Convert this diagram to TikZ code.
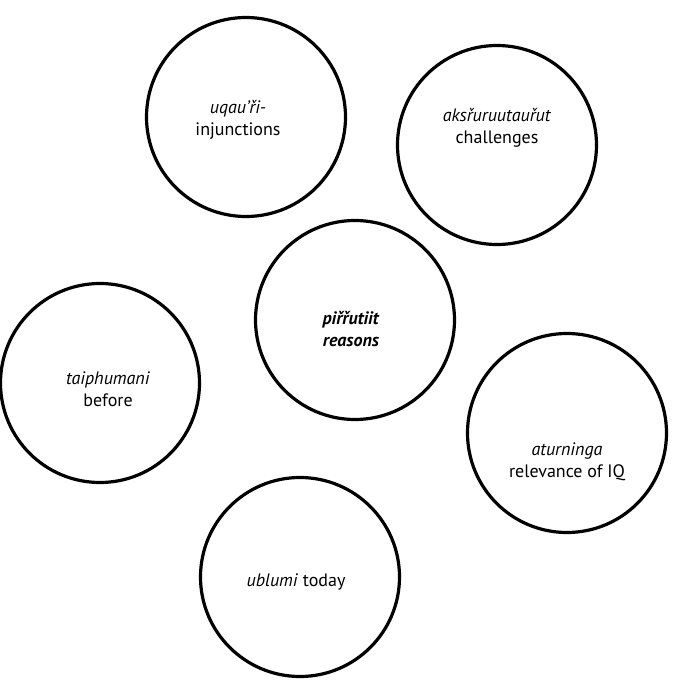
\documentclass[tikz,border=0pt]{standalone}
\usepackage{fontspec}
\setmainfont{PT Sans}
\begin{document}
\begin{tikzpicture}[x=1pt,y=-1pt,
  bub/.style={circle, draw=black, line width=3.2pt, minimum size=199pt, inner sep=0pt},
  lbl/.style={align=center, inner sep=0pt, font=\fontsize{18}{22}\selectfont}]
\useasboundingbox (0,0) rectangle (683,680);
\fill[white] (0,0) rectangle (683,680);
\node[bub] (c1) at (246,117) {};
\node[bub] (c2) at (497,145) {};
\node[bub] (c3) at (355,320) {};
\node[bub] (c4) at (100,383) {};
\node[bub] (c5) at (567,433) {};
\node[bub] (c6) at (300,577) {};
\node[lbl] (t1) at (238,120) {\textit{uqau'ři-}\\injunctions};
\node[lbl] (t2) at (497,128) {\textit{aksřuruutauřut}\\challenges};
\node[lbl] (t3) at (351,329) {\textbf{\textit{piřřutiit}}\\\textbf{\textit{reasons}}};
\node[lbl] (t4) at (108,389) {\textit{taiphumani}\\before};
\node[lbl] (t5) at (567,462) {\textit{aturninga}\\relevance of IQ};
\node[lbl] (t6) at (296,582) {\textit{ublumi} today};
\end{tikzpicture}
\end{document}
